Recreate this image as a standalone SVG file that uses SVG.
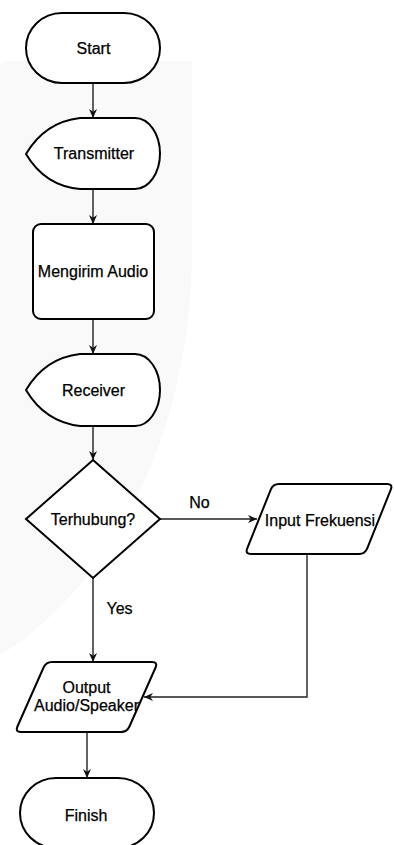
<svg xmlns="http://www.w3.org/2000/svg" width="394" height="845" viewBox="0 0 394 845">
  <defs>
    <style>
      .shape { fill: #ffffff; stroke: #000000; stroke-width: 2; }
      .label { font-family: "Liberation Sans", Arial, sans-serif; font-size: 16px; fill: #000000; text-anchor: middle; stroke: #000000; stroke-width: 0.25; }
      .edge { fill: none; stroke: #222222; stroke-width: 1.4; marker-end: url(#arrow); }
    </style>
    <marker id="arrow" viewBox="0 0 10 10" refX="10" refY="5" markerWidth="9" markerHeight="9" markerUnits="userSpaceOnUse" orient="auto">
      <path d="M0,0.5 L10,5 L0,9.5 L3,5 Z" fill="#111111"/>
    </marker>
  </defs>

  <rect x="0" y="0" width="394" height="845" fill="#ffffff"/>
  <path d="M0,66 Q1,61 12,61 L192,61 L192,250 C192,420 120,580 0,655 Z" fill="#f9f9f9"/>

  <g id="connectors">
    <line class="edge" x1="93" y1="83" x2="93" y2="118"/>
    <line class="edge" x1="93" y1="189" x2="93" y2="224"/>
    <line class="edge" x1="93" y1="319" x2="93" y2="354"/>
    <line class="edge" x1="93" y1="426" x2="93" y2="460"/>
    <line class="edge" x1="160" y1="519" x2="257" y2="519"/>
    <line class="edge" x1="93" y1="578" x2="93" y2="662"/>
    <polyline class="edge" points="307,554 307,697 144,697"/>
    <line class="edge" x1="87" y1="732" x2="87" y2="778"/>
    <text class="label" x="199.5" y="508">No</text>
    <text class="label" x="119.5" y="614">Yes</text>
  </g>

  <g id="start">
    <rect class="shape" x="26" y="13" width="134" height="70" rx="36" ry="35"/>
    <text class="label" x="93.5" y="54">Start</text>
  </g>

  <g id="transmitter">
    <path class="shape" d="M26,154 Q45,122 80,118 L135,118 A25,35.5 0 0 1 135,189 L80,189 Q45,186 26,154 Z"/>
    <text class="label" x="94" y="159">Transmitter</text>
  </g>

  <g id="mengirim-audio">
    <rect class="shape" x="33" y="224" width="121" height="95" rx="8" ry="8"/>
    <text class="label" x="93" y="277">Mengirim Audio</text>
  </g>

  <g id="receiver">
    <path class="shape" d="M26,390 Q45,358 80,354 L135,354 A25,36 0 0 1 135,426 L80,426 Q45,422 26,390 Z"/>
    <text class="label" x="93.5" y="396">Receiver</text>
  </g>

  <g id="terhubung">
    <path class="shape" d="M93,460 L160,519 L93,578 L26,519 Z"/>
    <text class="label" x="93" y="525">Terhubung?</text>
  </g>

  <g id="input-frekuensi">
    <path class="shape" d="M279,484 L387,484 Q393,484 390.77,489.57 L367.23,548.43 Q365,554 359,554 L251,554 Q245,554 247.23,548.43 L270.77,489.57 Q273,484 279,484 Z"/>
    <text class="label" x="320" y="526">Input Frekuensi</text>
  </g>

  <g id="output-audio">
    <path class="shape" d="M52,662 L152,662 Q158,662 155.57,667.49 L129.43,726.51 Q127,732 121,732 L21,732 Q15,732 17.43,726.51 L43.57,667.49 Q46,662 52,662 Z"/>
    <text class="label" x="86.5" y="693">Output</text>
    <text class="label" x="86.5" y="711">Audio/Speaker</text>
  </g>

  <g id="finish">
    <rect class="shape" x="20" y="778" width="134" height="70" rx="36" ry="35"/>
    <text class="label" x="86" y="821">Finish</text>
  </g>
</svg>
